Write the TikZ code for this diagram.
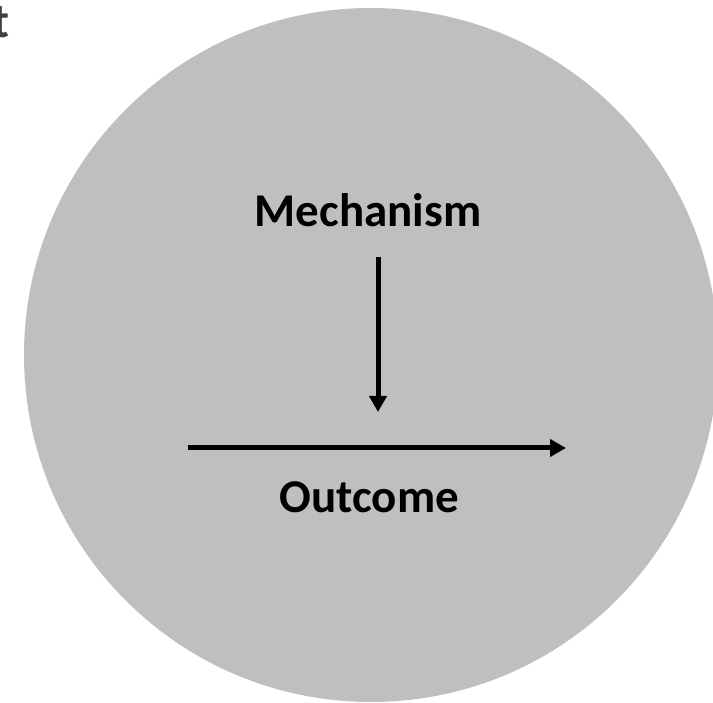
\documentclass[tikz,border=0pt]{standalone}
\usepackage{fontspec}
\setmainfont{Carlito}
\usetikzlibrary{arrows.meta}
\definecolor{discgray}{RGB}{191,191,191}
\definecolor{textgray}{RGB}{64,64,64}
\tikzset{
  lbl/.style={font=\fontsize{47}{56}\selectfont\bfseries, text=black, inner sep=0pt, anchor=base},
  arr/.style={line width=5pt, -{Triangle[length=16pt,width=17pt]}},
}
\begin{document}
\begin{tikzpicture}[x=1pt,y=-1pt]
\useasboundingbox (0,0) rectangle (713,703);
\fill[discgray] (371,355) circle (347pt);
\node[lbl, text=textgray, anchor=base east, font=\fontsize{49}{58}\selectfont\bfseries] (t) at (10,38) {t};
\node[lbl] (mech) at (368,227) {Mechanism};
\node[lbl] (outc) at (369.5,512) {Outcome};
\coordinate (vtop) at (378,257);
\coordinate (vtip) at (378,412);
\coordinate (hstart) at (188,448);
\coordinate (hend) at (566,448);
\draw[arr] (vtop) -- (vtip);
\draw[arr] (hstart) -- (hend);
\end{tikzpicture}
\end{document}
